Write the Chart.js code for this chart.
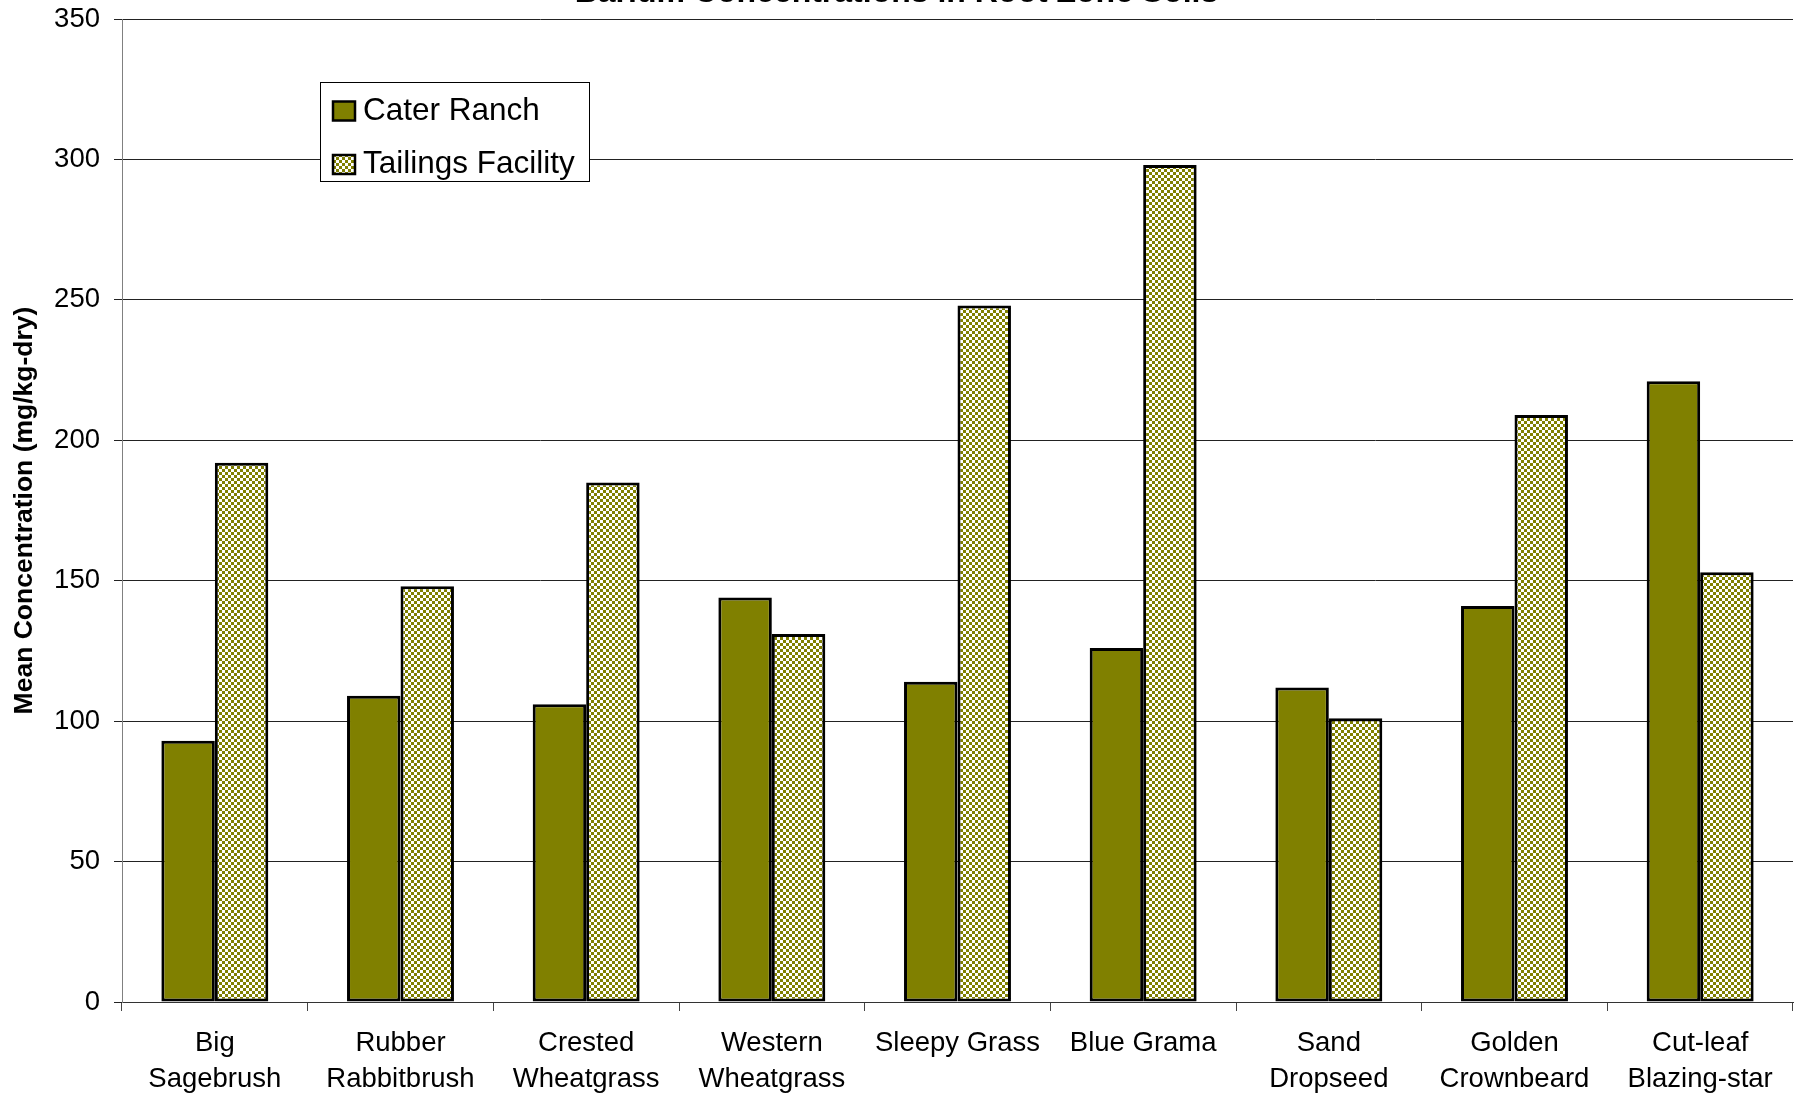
<!DOCTYPE html>
<html>
<head>
<meta charset="utf-8">
<script src="https://cdn.jsdelivr.net/npm/chart.js@4.4.0/dist/chart.umd.min.js"></script>
<style>
  html, body { margin: 0; padding: 0; background: #fff; overflow: hidden; }
  /* canvas is taller than the window and shifted up, so the title is cut off at the top like the original */
  #wrap { position: absolute; left: 0; top: -26px; width: 1804px; height: 1122px; }
</style>
</head>
<body>
<div id="wrap"><canvas id="chart" width="1804" height="1122"></canvas></div>
<script>
const categories = [
    ['Big', 'Sagebrush'],
    ['Rubber', 'Rabbitbrush'],
    ['Crested', 'Wheatgrass'],
    ['Western', 'Wheatgrass'],
    'Sleepy Grass',
    'Blue Grama',
    ['Sand', 'Dropseed'],
    ['Golden', 'Crownbeard'],
    ['Cut-leaf', 'Blazing-star']
];
const caterRanch = [93, 109, 106, 144, 114, 126, 112, 141, 221];
const tailingsFacility = [192, 148, 185, 131, 248, 298, 101, 209, 153];
const yMin = 0, yMax = 350, yStep = 50;

const OLIVE = '#808000';

// small olive / white checkerboard fill for the second series
function checkerPattern() {
    const c = document.createElement('canvas');
    c.width = 6;
    c.height = 6;
    const g = c.getContext('2d');
    g.fillStyle = OLIVE;
    g.fillRect(0, 0, 6, 6);
    g.fillStyle = '#fff';
    g.fillRect(0, 0, 3, 3);
    g.fillRect(3, 3, 3, 3);
    return g.createPattern(c, 'repeat');
}

// boxed legend sitting inside the plot, top left
const boxLegend = {
    id: 'boxLegend',
    afterDraw(chart) {
        const {ctx, chartArea} = chart;
        const x = chartArea.left + 198, y = chartArea.top + 63, w = 269, h = 99;
        ctx.save();
        ctx.fillStyle = '#fff';
        ctx.fillRect(x, y, w, h);
        ctx.strokeStyle = '#000';
        ctx.lineWidth = 1;
        ctx.strokeRect(x + 0.5, y + 0.5, w, h);
        ctx.font = "31.5px 'Liberation Sans', Arial, sans-serif";
        ctx.textBaseline = 'middle';
        chart.data.datasets.forEach((ds, i) => {
            const cy = y + 29 + i * 53.5;
            ctx.fillStyle = ds.backgroundColor;
            ctx.fillRect(x + 13, cy - 9.5, 22, 19);
            ctx.lineWidth = 2.5;
            ctx.strokeStyle = '#000';
            ctx.strokeRect(x + 13, cy - 9.5, 22, 19);
            ctx.fillStyle = '#000';
            ctx.fillText(ds.label, x + 43, cy);
        });
        ctx.restore();
    }
};

Chart.defaults.font.family = "'Liberation Sans', Arial, sans-serif";
Chart.defaults.color = '#000';

new Chart(document.getElementById('chart'), {
    type: 'bar',
    data: {
        labels: categories,
        datasets: [{
            label: 'Cater Ranch',
            data: caterRanch,
            backgroundColor: OLIVE,
            borderColor: '#000',
            borderWidth: 3,
            borderSkipped: false,
            categoryPercentage: 0.576,
            barPercentage: 1
        }, {
            label: 'Tailings Facility',
            data: tailingsFacility,
            backgroundColor: checkerPattern(),
            borderColor: '#000',
            borderWidth: 3,
            borderSkipped: false,
            categoryPercentage: 0.576,
            barPercentage: 1
        }]
    },
    options: {
        responsive: false,
        animation: false,
        devicePixelRatio: 1,
        layout: {padding: {right: 11}},
        plugins: {
            legend: {display: false},
            tooltip: {enabled: false},
            title: {
                display: true,
                text: 'Barium Concentrations in Root Zone Soils',
                color: '#000',
                font: {size: 32, weight: 'bold'},
                padding: {top: 0, bottom: 6.6}
            }
        },
        scales: {
            x: {
                grid: {drawOnChartArea: false, tickLength: 9, tickColor: '#444', offset: true},
                border: {color: '#333', width: 1},
                ticks: {padding: 14.6, font: {size: 27.5, lineHeight: 1.3}, maxRotation: 0, autoSkip: false},
                afterFit: s => { s.height = 94; }
            },
            y: {
                min: yMin,
                max: yMax,
                ticks: {stepSize: yStep, padding: 14, font: {size: 27.5}},
                grid: {color: '#222', lineWidth: 1, tickLength: 8, tickColor: '#222'},
                border: {color: '#808080', width: 1},
                title: {
                    display: true,
                    text: 'Mean Concentration (mg/kg-dry)',
                    color: '#000',
                    font: {size: 26.5, weight: 'bold'},
                    padding: {top: 9, bottom: 0}
                },
                afterFit: s => { s.width = 122; }
            }
        }
    },
    plugins: [boxLegend]
});
</script>
</body>
</html>
